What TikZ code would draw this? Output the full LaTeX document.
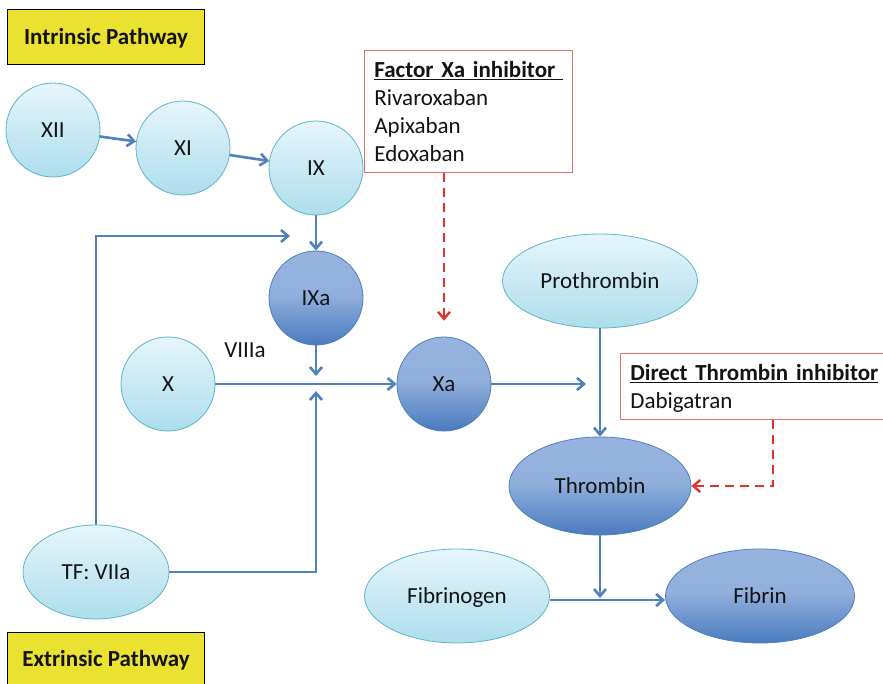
\documentclass[tikz,border=0pt]{standalone}
\usepackage{fontspec}
\setmainfont{Carlito}
\usetikzlibrary{arrows.meta,shapes.geometric}

\definecolor{ink}{HTML}{141414}
\definecolor{litetop}{HTML}{E6F6FB}
\definecolor{litebot}{HTML}{ADDDEC}
\definecolor{liteedge}{HTML}{5DB4CC}
\definecolor{darktop}{HTML}{97B4DF}
\definecolor{darkbot}{HTML}{4A7BBE}
\definecolor{darkedge}{HTML}{4F7FBC}
\definecolor{flow}{HTML}{4F81BD}
\definecolor{alert}{HTML}{E2322A}
\definecolor{boxred}{HTML}{E56E69}
\definecolor{tag}{HTML}{EBE130}

% darker lower part, lighter upper half
\pgfdeclareverticalshading{darkfill}{100bp}{%
  color(0bp)=(darkbot); color(25bp)=(darkbot);
  color(52bp)=(darktop!92!darkbot); color(75bp)=(darktop); color(100bp)=(darktop)}

\begin{document}
\begin{tikzpicture}[x=1pt,y=-1pt,
  lbl/.style={font=\fontsize{23pt}{28pt}\selectfont, text=ink, text height=14.8pt, text depth=0pt},
  lite/.style={lbl, draw=liteedge, line width=0.8pt, top color=litetop, bottom color=litebot, inner sep=0pt},
  dark/.style={lbl, draw=darkedge, line width=0.8pt, shading=darkfill, inner sep=0pt},
  ball/.style={circle, minimum size=94pt},
  oval/.style={ellipse},
  tagbox/.style={lbl, font=\fontsize{23pt}{28pt}\selectfont\bfseries, draw=black, line width=1pt, fill=tag,
    minimum width=197pt, minimum height=55pt, anchor=north west, inner sep=0pt},
  drugbox/.style={font=\fontsize{23pt}{28pt}\selectfont, text=ink, draw=boxred, line width=0.8pt, fill=white,
    align=left, anchor=north west, inner xsep=10pt, inner ysep=11pt},
  arr/.style={draw=flow, line width=2.6pt, -{Straight Barb[length=7pt,width=12pt]}},
  redarr/.style={draw=alert, line width=2.4pt, dash pattern=on 9pt off 6pt, -{Straight Barb[length=7pt,width=12pt]}}
]
\useasboundingbox (0,0) rectangle (883,683);
\fill[white] (0,0) rectangle (883,683);

% pathway labels
\node[tagbox] (intr) at (7,9) {Intrinsic Pathway};
\node[tagbox, minimum height=54pt] (extr) at (7,632) {Extrinsic Pathway};

% intrinsic cascade
\node[lite, ball] (XII) at (53,130) {XII};
\node[lite, ball] (XI)  at (183,148) {XI};
\node[lite, ball] (IX)  at (316,168) {IX};
\node[dark, ball] (IXa) at (316,298) {IXa};
\node[lbl] (VIII) at (245,350) {VIIIa};
\node[lite, ball] (X)   at (168,384) {X};
\node[dark, ball] (Xa)  at (444,384) {Xa};

% extrinsic start
\node[lite, oval, minimum width=146pt, minimum height=94pt] (TF) at (96,572) {TF: VIIa};

% common pathway
\node[lite, oval, minimum width=195pt, minimum height=94pt] (Pro) at (600,281) {Prothrombin};
\node[dark, oval, minimum width=182pt, minimum height=98pt] (Thr) at (600,486) {Thrombin};
\node[lite, oval, minimum width=185pt, minimum height=94pt] (Fbg) at (457,596) {Fibrinogen};
\node[dark, oval, minimum width=189pt, minimum height=94pt] (Fib) at (760,596) {Fibrin};

% inhibitor boxes (first line sets the height, the rest hangs below)
\node[drugbox, text width=188pt, text height=16pt, text depth=84pt] (fxa) at (364,50)
  {\underline{\textbf{Factor Xa inhibitor }}\\Rivaroxaban\\Apixaban\\Edoxaban};
\node[drugbox, text width=252pt, text height=16pt, text depth=28pt] (dti) at (620,353)
  {\underline{\textbf{Direct Thrombin inhibitor}}\\Dabigatran};

% junctions and free ends
\coordinate (j)    at (316,384);
\coordinate (ixin) at (290,236);
\coordinate (xout) at (586,384);
\coordinate (j2)   at (600,600);
\coordinate (dturn) at (773,486);

% blue flow
\draw[arr] (XII) -- (XI);
\draw[arr] (XI) -- (IX);
\draw[arr] (IX) -- (IXa);
\draw[arr, shorten >=8pt] (IXa) -- (j);
\draw[arr] (X) -- (Xa);
\draw[arr] (TF.north) |- (ixin);
\draw[arr, shorten >=7pt] (TF.east) -| (j);
\draw[arr] (Xa) -- (xout);
\draw[arr] (Pro) -- (Thr);
\draw[arr, shorten >=2pt] (Thr) -- (j2);
\draw[arr] (Fbg.east |- j2) -- (Fib.west |- j2);

% inhibitor actions
\draw[redarr, shorten >=16pt] (fxa.south -| Xa) -- (Xa);
\draw[redarr] (dti.south -| dturn) -- (dturn) -- (Thr);
\end{tikzpicture}
\end{document}
